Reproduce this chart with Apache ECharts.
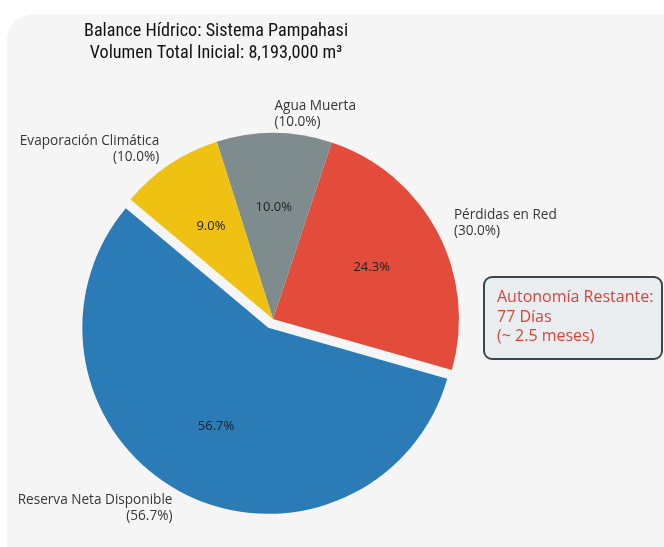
<!DOCTYPE html>
<html>
<head>
<meta charset="utf-8">
<script src="https://cdn.jsdelivr.net/npm/echarts@6/dist/echarts.min.js"></script>
<style>
html,body{margin:0;padding:0;background:#ffffff;}
#chart{width:664px;height:547px;}
</style>
</head>
<body>
<div id="chart"></div>
<script>
const categories = ['Reserva Neta Disponible', 'Pérdidas en Red', 'Agua Muerta', 'Evaporación Climática'];
const values = [56.7, 24.3, 10.0, 9.0];
const labelPcts = ['56.7%', '30.0%', '10.0%', '10.0%'];
const colors = ['#2a7bb6', '#e34c3b', '#7f8c8d', '#efc113'];
const explodedIndex = 0;
const titleLines = ['Balance Hídrico: Sistema Pampahasi', 'Volumen Total Inicial: 8,193,000 m³'];
const noteLines = ['Autonomía Restante:', '77 Días', '(~ 2.5 meses)'];

const R = 186;
const center = [273, 319];
const pctDistance = 0.6;
// ECharts puts 'inside' labels at r/2 + 3px, so size the label ring accordingly
const pctRingRadius = 2 * (pctDistance * R - 3);
const labelFont = "'Open Sans', Roboto, sans-serif";

const pieData = categories.map((c, i) => ({
  name: c,
  value: values[i],
  selected: i === explodedIndex,
  itemStyle: { color: colors[i] }
}));
const ghostData = categories.map((c, i) => ({
  name: c,
  value: values[i],
  selected: i === explodedIndex,
  itemStyle: { color: 'rgba(0,0,0,0)' }
}));

const chart = echarts.init(document.getElementById('chart'), null, { renderer: 'canvas' });
chart.setOption({
  animation: false,
  graphic: [
    {
      type: 'rect', z: -10, silent: true,
      shape: { x: 7, y: 14, width: 690, height: 560, r: 26 },
      style: { fill: '#f5f5f5' }
    },
    {
      type: 'text', z: 10,
      style: {
        x: 216, y: 42, text: titleLines.join('\n'),
        align: 'center', verticalAlign: 'middle',
        font: "18.2px 'Liberation Sans Narrow', 'Roboto Condensed', Roboto, sans-serif",
        lineHeight: 22, fill: '#111111'
      }
    },
    {
      type: 'rect', z: 10,
      shape: { x: 484, y: 277, width: 178, height: 82, r: 8 },
      style: { fill: '#e9edef', stroke: '#37474f', lineWidth: 2 }
    },
    {
      type: 'text', z: 11,
      style: {
        x: 497, y: 317, text: noteLines.join('\n'),
        align: 'left', verticalAlign: 'middle',
        font: "16px 'Open Sans', Roboto, sans-serif", lineHeight: 19.5, fill: '#d9443a'
      }
    }
  ],
  series: [
    {
      type: 'pie',
      center: center,
      radius: [0, R],
      startAngle: 140,
      clockwise: false,
      selectedMode: 'single',
      selectedOffset: 10,
      avoidLabelOverlap: false,
      emphasis: { disabled: true },
      data: pieData,
      label: {
        show: true,
        position: 'outside',
        distanceToLabelLine: 0,
        formatter: p => p.name + '\n(' + labelPcts[p.dataIndex] + ')',
        fontFamily: labelFont,
        fontSize: 13.6,
        lineHeight: 16,
        color: '#363636'
      },
      labelLine: { show: false, length: 18.6, length2: 0 }
    },
    {
      type: 'pie',
      center: center,
      radius: [0, pctRingRadius],
      startAngle: 140,
      clockwise: false,
      selectedMode: 'single',
      selectedOffset: 10,
      avoidLabelOverlap: false,
      silent: true,
      emphasis: { disabled: true },
      data: ghostData,
      label: {
        show: true,
        position: 'inside',
        formatter: p => p.percent.toFixed(1) + '%',
        fontFamily: labelFont,
        fontSize: 13,
        color: '#222222'
      },
      labelLine: { show: false }
    }
  ]
});
</script>
</body>
</html>
